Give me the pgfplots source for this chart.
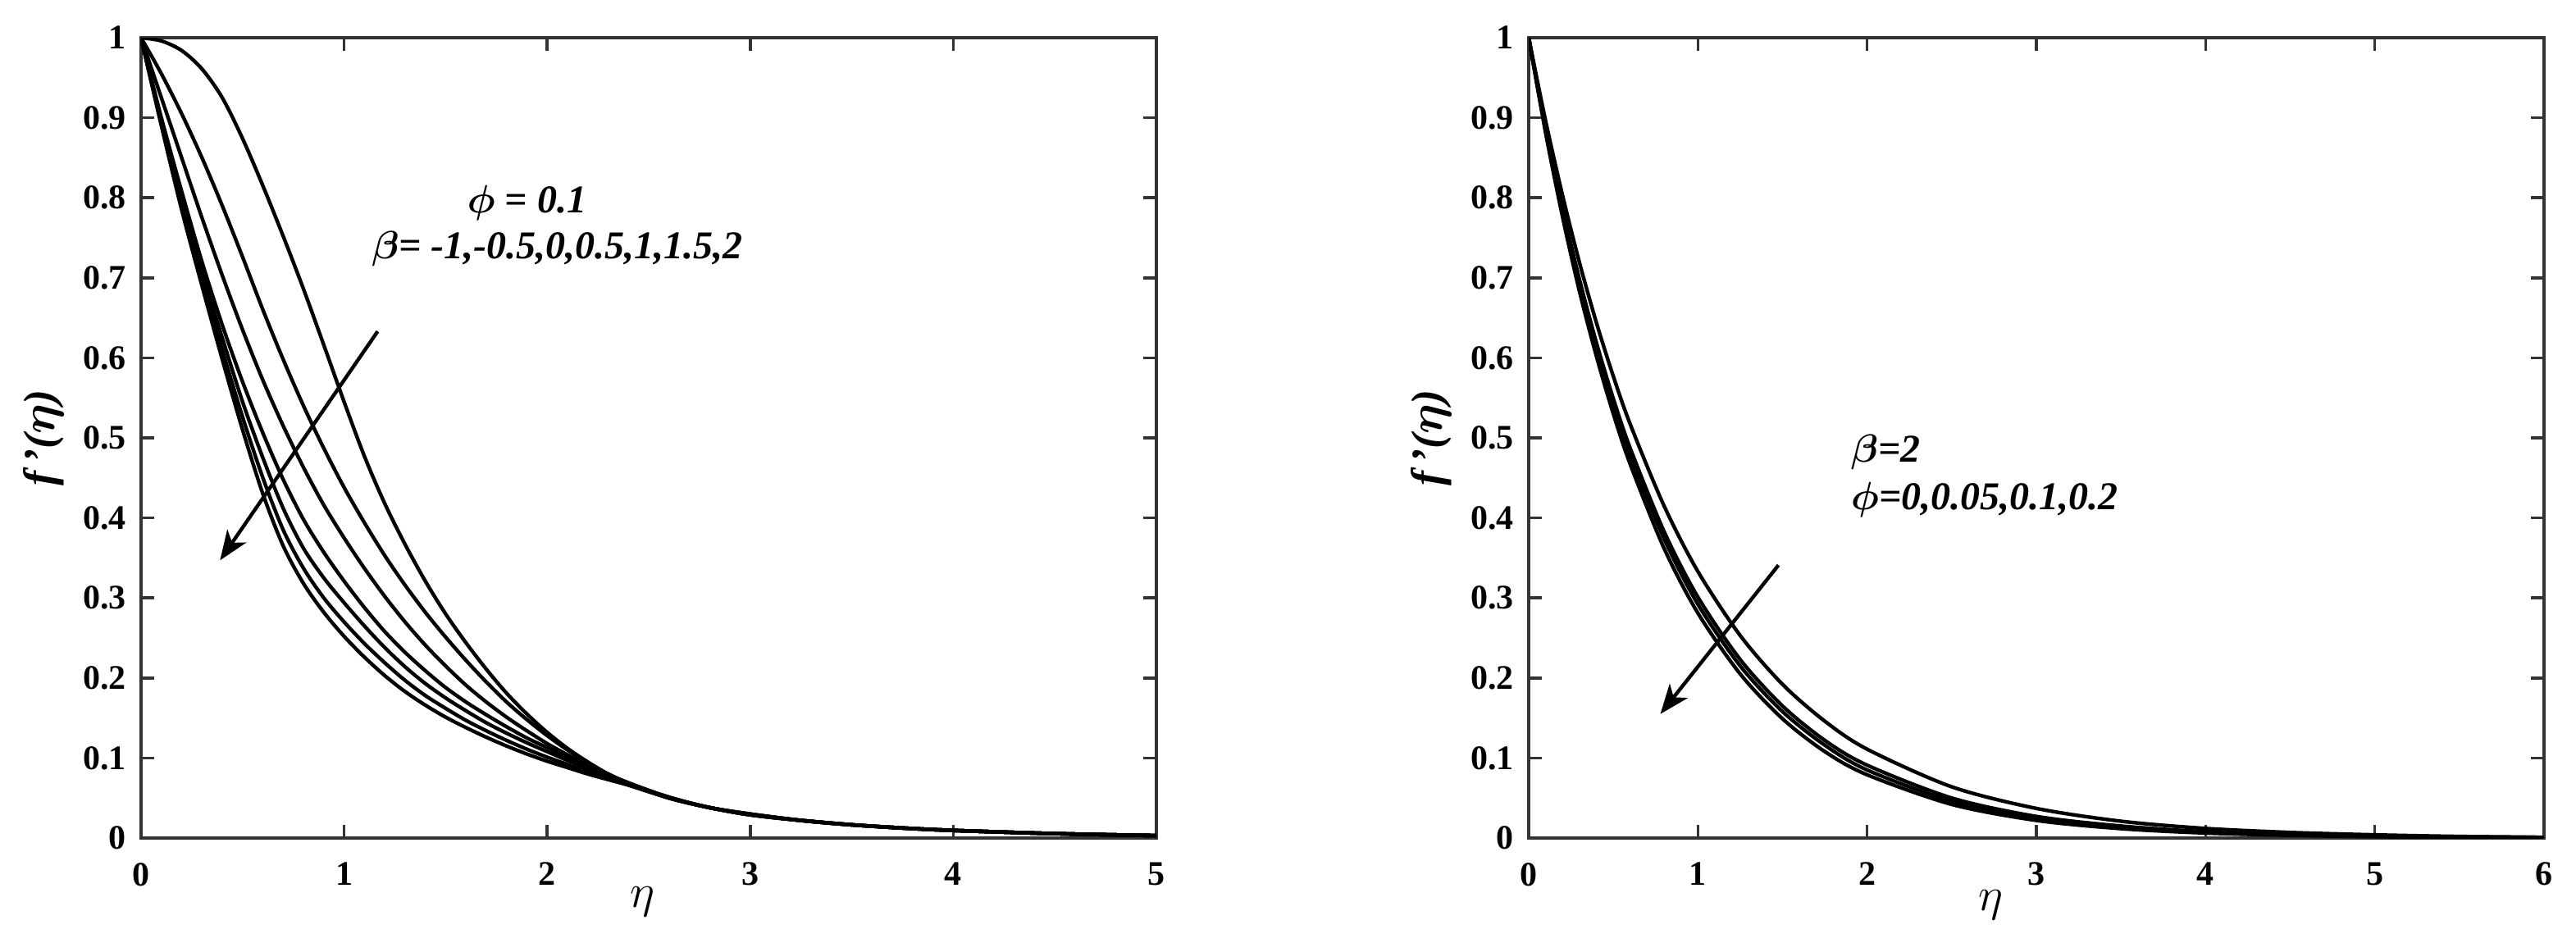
\documentclass[border=0pt]{standalone}
\usepackage{pgfplots}
\pgfplotsset{compat=1.18}
\usepackage{pgfplotstable}
\usepackage{amsmath,bm}
\usepackage{fontspec}
\setmainfont{Liberation Serif}
\usetikzlibrary{arrows.meta}

% f'(eta) for phi = 0.1, beta = -1,-0.5,0,0.5,1,1.5,2 (c1 = top curve)
\pgfplotstableread{
x    c1     c2     c3     c4     c5     c6     c7
0.0  1      1      1      1      1      1      1
0.1  0.996  0.955  0.925  0.900  0.896  0.893  0.890
0.2  0.984  0.905  0.850  0.808  0.800  0.792  0.785
0.3  0.961  0.850  0.775  0.720  0.708  0.698  0.690
0.4  0.925  0.790  0.703  0.641  0.625  0.610  0.598
0.5  0.874  0.726  0.635  0.570  0.545  0.526  0.510
0.6  0.815  0.660  0.572  0.506  0.475  0.450  0.430
0.7  0.752  0.598  0.515  0.448  0.412  0.385  0.365
0.8  0.686  0.540  0.463  0.398  0.362  0.337  0.318
0.9  0.616  0.487  0.416  0.357  0.325  0.300  0.282
1.0  0.545  0.438  0.375  0.321  0.294  0.270  0.252
1.1  0.477  0.394  0.337  0.288  0.265  0.243  0.226
1.2  0.418  0.353  0.302  0.258  0.238  0.219  0.203
1.3  0.367  0.316  0.270  0.232  0.214  0.197  0.183
1.4  0.321  0.282  0.241  0.209  0.193  0.178  0.166
1.5  0.280  0.251  0.215  0.188  0.175  0.162  0.151
1.6  0.244  0.222  0.191  0.170  0.159  0.147  0.138
1.7  0.211  0.195  0.170  0.154  0.144  0.134  0.126
1.8  0.181  0.170  0.151  0.139  0.131  0.122  0.115
1.9  0.155  0.148  0.134  0.125  0.119  0.111  0.105
2.0  0.132  0.128  0.118  0.113  0.108  0.101  0.096
2.1  0.112  0.110  0.104  0.101  0.097  0.092  0.088
2.2  0.095  0.094  0.091  0.090  0.087  0.083  0.080
2.3  0.080  0.080  0.080  0.079  0.077  0.075  0.073
2.4  0.068  0.068  0.069  0.069  0.068  0.067  0.066
2.6  0.051  0.051  0.051  0.050  0.050  0.050  0.050
2.8  0.038  0.038  0.038  0.038  0.038  0.038  0.038
3.0  0.030  0.030  0.030  0.029  0.029  0.029  0.029
3.25 0.022  0.022  0.022  0.022  0.022  0.022  0.022
3.5  0.0165 0.0165 0.0165 0.0165 0.0165 0.0165 0.0165
3.75 0.0125 0.0125 0.0125 0.0125 0.0125 0.0125 0.0125
4.0  0.0095 0.0095 0.0095 0.0095 0.0095 0.0095 0.0095
4.5  0.0055 0.0055 0.0055 0.0055 0.0055 0.0055 0.0055
5.0  0.003  0.003  0.003  0.003  0.003  0.003  0.003
}\betadata

% f'(eta) for beta = 2, phi = 0,0.05,0.1,0.2 (d1 = top curve)
\pgfplotstableread{
x    d1     d2     d3     d4
0.0  1      1      1      1
0.1  0.896  0.887  0.884  0.881
0.2  0.803  0.787  0.782  0.776
0.3  0.719  0.698  0.691  0.683
0.4  0.644  0.619  0.611  0.602
0.5  0.577  0.549  0.541  0.530
0.6  0.517  0.487  0.478  0.467
0.8  0.415  0.383  0.374  0.362
1.0  0.333  0.301  0.292  0.281
1.25 0.253  0.223  0.215  0.205
1.5  0.192  0.165  0.158  0.149
1.75 0.146  0.122  0.116  0.108
2.0  0.111  0.091  0.085  0.079
2.5  0.064  0.050  0.046  0.042
3.0  0.037  0.027  0.025  0.022
3.5  0.021  0.015  0.0135 0.0117
4.0  0.012  0.008  0.0073 0.0062
4.5  0.007  0.0045 0.004  0.0033
5.0  0.004  0.0025 0.0021 0.0017
5.5  0.002  0.0014 0.0012 0.0009
6.0  0.001  0.0007 0.0006 0.0005
}\phidata

\pgfplotsset{
  panel/.style={
    scale only axis, width=309.5pt, height=244pt,
    anchor=south west,
    xmin=0, ymin=0, ymax=1,
    ytick={0,0.1,0.2,0.3,0.4,0.5,0.6,0.7,0.8,0.9,1},
    axis line style={black!80, line width=1pt},
    tick style={black!80, line width=0.9pt},
    major tick length=3.9pt,
    tick align=inside,
    tick label style={font=\fontsize{10.5}{12}\selectfont\bfseries},
    /pgf/number format/assume math mode=true,
    yticklabel style={/pgf/number format/fixed, xshift=-1pt},
    xticklabel style={yshift=-4pt},
    xlabel={$\eta$},
    every axis x label/.style={at={(axis description cs:0.494,-0.080)}, anchor=center,
      font=\fontsize{14}{16}\selectfont},
    ylabel={\bfseries\itshape f\,'($\bm{\eta}$)},
    every axis y label/.style={at={(axis description cs:-0.096,0.5)}, rotate=90, anchor=center,
      font=\fontsize{13.5}{15}\selectfont},
    every axis plot post/.append style={black, solid, line width=1.1pt, mark=none, smooth},
  },
}
\tikzset{
  note/.style={font=\fontsize{12}{14}\selectfont\bfseries\itshape, inner sep=0pt},
  trend/.style={-{Stealth[length=9pt, width=7pt, inset=2.5pt]}, line width=1.1pt},
}

\begin{document}
\begin{tikzpicture}
\useasboundingbox (0,0) rectangle (785.25pt,290pt);

\begin{axis}[panel, at={(43pt,34.5pt)}, xmax=5, xtick={0,1,2,3,4,5}]
  \addplot table[x=x, y=c1] {\betadata};
  \addplot table[x=x, y=c2] {\betadata};
  \addplot table[x=x, y=c3] {\betadata};
  \addplot table[x=x, y=c4] {\betadata};
  \addplot table[x=x, y=c5] {\betadata};
  \addplot table[x=x, y=c6] {\betadata};
  \addplot table[x=x, y=c7] {\betadata};
  \draw[trend] (axis cs:1.165,0.633) -- (axis cs:0.389,0.347);
  \node[note] at (axis cs:1.90,0.794) {$\bm{\phi}$ = 0.1};
  \node[note] at (axis cs:2.05,0.736) {$\bm{\beta}$= -1,-0.5,0,0.5,1,1.5,2};
\end{axis}

\begin{axis}[panel, at={(466pt,34.5pt)}, xmax=6, xtick={0,1,2,3,4,5,6},
  every axis x label/.append style={at={(axis description cs:0.455,-0.084)}}]
  \addplot table[x=x, y=d1] {\phidata};
  \addplot table[x=x, y=d2] {\phidata};
  \addplot table[x=x, y=d3] {\phidata};
  \addplot table[x=x, y=d4] {\phidata};
  \draw[trend] (axis cs:1.476,0.341) -- (axis cs:0.778,0.155);
  \node[note, anchor=west] at (axis cs:1.90,0.482) {$\bm{\beta}$=2};
  \node[note, anchor=west] at (axis cs:1.90,0.423) {$\bm{\phi}$=0,0.05,0.1,0.2};
\end{axis}
\end{tikzpicture}
\end{document}
